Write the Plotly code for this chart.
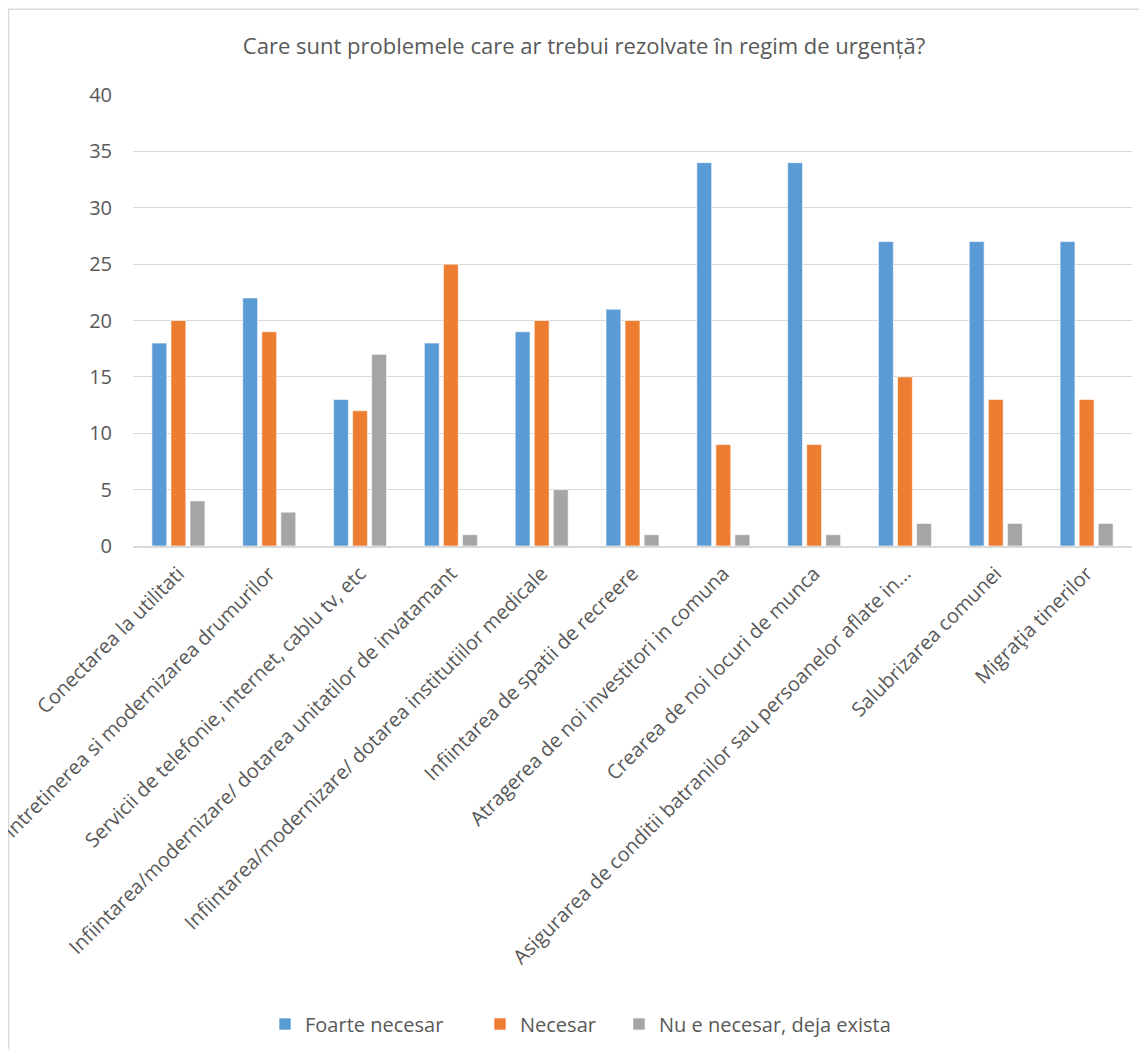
import plotly.graph_objects as go

categories = [
    "Conectarea la utilitati",
    "Intretinerea si modernizarea drumurilor",
    "Servicii de telefonie, internet, cablu tv, etc",
    "Infiintarea/modernizare/ dotarea unitatilor de invatamant",
    "Infiintarea/modernizare/ dotarea institutiilor medicale",
    "Infiintarea de spatii de recreere",
    "Atragerea de noi investitori in comuna",
    "Crearea de noi locuri de munca",
    "Asigurarea de conditii batranilor sau persoanelor aflate in...",
    "Salubrizarea comunei",
    "Migraţia tinerilor",
]
foarte_necesar = [18, 22, 13, 18, 19, 21, 34, 34, 27, 27, 27]
necesar = [20, 19, 12, 25, 20, 20, 9, 9, 15, 13, 13]
nu_e_necesar = [4, 3, 17, 1, 5, 1, 1, 1, 2, 2, 2]
series_names = ["Foarte necesar", "Necesar", "Nu e necesar, deja exista"]
colors = ["#5B9BD5", "#ED7D31", "#A5A5A5"]

OFF = 8  # page body margin
W, H = 1147 - 2 * OFF, 1057 - 2 * OFF
L, T = 133 - OFF, 95 - OFF
R = W - (1132 - OFF)
B = H - (547 - OFF)
pw, ph = W - L - R, H - T - B

def px_x(px):
    return (px - OFF - L) / pw

def px_y(py):
    return (H - B - (py - OFF)) / ph

font_family = "Open Sans, Liberation Sans, sans-serif"
legend_ids = ["legend", "legend2", "legend3"]
legend_square_left = [283, 498, 637]

fig = go.Figure()
for name, vals, c, lg in zip(series_names, [foarte_necesar, necesar, nu_e_necesar], colors, legend_ids):
    fig.add_trace(go.Bar(
        x=categories, y=vals, name=name, legend=lg,
        marker=dict(color=c, line=dict(color="rgba(255,255,255,0.6)", width=1)),
    ))

legend_common = dict(
    orientation="h", xanchor="left", yanchor="middle", y=px_y(1024),
    font=dict(family=font_family, size=20, color="#595959"),
    bgcolor="rgba(0,0,0,0)", itemwidth=30,
)
legends = {}
for lg, sq in zip(legend_ids, legend_square_left):
    legends[lg] = dict(legend_common, x=px_x(sq - 18))

fig.update_layout(
    width=W, height=H,
    margin=dict(l=L, r=R, t=T, b=B),
    paper_bgcolor="white", plot_bgcolor="white",
    barmode="group", bargap=0.37, bargroupgap=0.22,
    title=dict(
        text="Care sunt problemele care ar trebui rezolvate în regim de urgență?",
        x=(584 - OFF) / W, xanchor="center",
        y=1 - (46 - OFF) / H, yanchor="middle",
        font=dict(family=font_family, size=22, color="#595959"),
    ),
    font=dict(family=font_family, color="#595959"),
    showlegend=True,
    **legends,
)
fig.update_yaxes(
    range=[0, 40], dtick=5, showgrid=True, gridcolor="#D9D9D9", gridwidth=1,
    zeroline=False, showline=False, ticks="",
    tickfont=dict(size=20, color="#595959"), ticklabelstandoff=20,
)
fig.update_xaxes(
    tickangle=-45, showline=True, linecolor="#D9D9D9", linewidth=2,
    ticks="", tickfont=dict(size=20, color="#595959"), automargin=False,
    ticklabelstandoff=6,
)
fig.add_shape(
    type="rect", xref="paper", yref="paper",
    x0=px_x(8.5), x1=px_x(1200), y0=px_y(1100), y1=px_y(9),
    line=dict(color="#D9D9D9", width=1.5), fillcolor="rgba(0,0,0,0)", layer="below",
)
fig.write_html("out.html")
